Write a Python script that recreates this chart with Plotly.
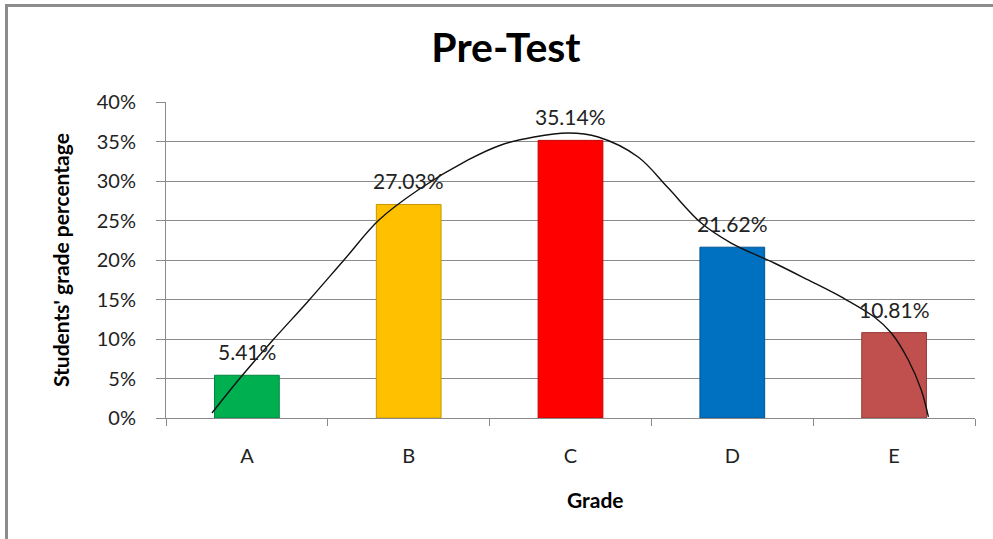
import plotly.graph_objects as go

grades = ["A", "B", "C", "D", "E"]
percent = [5.41, 27.03, 35.14, 21.62, 10.81]
bar_colors = ["#00B050", "#FFC000", "#FF0000", "#0070C0", "#C0504D"]
edge_colors = ["#00843C", "#C79600", "#C00000", "#005490", "#953B39"]

# hand-drawn trend curve (x in category units, y in %)
curve_x = [-0.216, -0.037, 0.161, 0.377, 0.600, 0.816, 1.058, 1.367, 1.571, 1.775,
           1.985, 2.171, 2.418, 2.600, 2.808, 2.993, 3.259, 3.469, 3.673,
           3.878, 3.983, 4.088, 4.168, 4.212]
curve_y = [0.63, 5.19, 9.87, 14.75, 20.0, 25.06, 28.86, 32.66, 34.56, 35.57,
           36.08, 35.57, 33.04, 29.2, 24.68, 22.15, 19.62, 17.47, 15.32,
           12.78, 10.76, 7.34, 3.54, 0.13]

y_ticks = [0, 5, 10, 15, 20, 25, 30, 35, 40]

FONT = "Lato"
GRID = "#8A8A8A"

xpos = list(range(len(grades)))

fig = go.Figure()
fig.add_trace(go.Bar(
    x=xpos, y=percent, width=0.4,
    marker=dict(color=bar_colors, line=dict(color=edge_colors, width=1)),
    showlegend=False, hoverinfo="skip",
))
fig.add_trace(go.Scatter(
    x=curve_x, y=curve_y, mode="lines",
    line=dict(color="#111111", width=1.4, shape="spline", smoothing=1.0),
    showlegend=False, hoverinfo="skip",
))

for xi, v in zip(xpos, percent):
    fig.add_annotation(x=xi, y=v, text=f"{v:.2f}%", showarrow=False,
                       yanchor="bottom", yshift=9,
                       font=dict(family=FONT, size=21, color="#222222"))

# axis titles
fig.add_annotation(x=0.5315, y=-0.258, xref="paper", yref="paper", text="<b>Grade</b>",
                   showarrow=False, xanchor="center", yanchor="middle",
                   font=dict(family=FONT, size=21, color="#000000"))
fig.add_annotation(x=-0.131, y=0.5, xref="paper", yref="paper",
                   text="<b>Students' grade percentage</b>", textangle=-90,
                   showarrow=False, xanchor="center", yanchor="middle",
                   font=dict(family=FONT, size=21, color="#000000"))

# outer chart border
fig.add_shape(type="rect", xref="paper", yref="paper",
              x0=(6.5 - 166) / 809, x1=(1010 - 166) / 809,
              y0=(418 - 560) / 316, y1=(418 - 5.5) / 316,
              line=dict(color="#8C8C8C", width=3), layer="below")

fig.update_layout(
    width=993, height=539,
    margin=dict(l=166, r=18, t=102, b=121),
    paper_bgcolor="white", plot_bgcolor="white",
    title=dict(text="<b>Pre-Test</b>", x=506 / 993, xanchor="center",
               y=1 - 48 / 539, yanchor="middle",
               font=dict(family=FONT, size=41, color="#000000")),
    bargap=0.6,
    font=dict(family=FONT, color="#222222"),
)
fig.update_xaxes(
    range=[-0.5, 4.5], tickvals=xpos, ticktext=grades, ticks="",
    showgrid=False, showline=True, linecolor=GRID, linewidth=1, zeroline=False,
    tickfont=dict(family=FONT, size=20, color="#222222"),
    ticklabelstandoff=20,
    minor=dict(tickvals=[-0.5, 0.5, 1.5, 2.5, 3.5, 4.5], ticks="outside",
               ticklen=7, tickcolor=GRID, showgrid=False),
)
fig.update_yaxes(
    range=[0, 40], tickvals=y_ticks, ticktext=[f"{t}%" for t in y_ticks],
    ticks="outside", ticklen=9, tickcolor=GRID,
    showgrid=True, gridcolor=GRID, gridwidth=1,
    showline=True, linecolor=GRID, linewidth=1, zeroline=False,
    tickfont=dict(family=FONT, size=20, color="#222222"),
    ticklabelstandoff=16,
)

fig.write_html("out.html", config={"displayModeBar": False},
               post_script="document.body.style.margin='0';")
